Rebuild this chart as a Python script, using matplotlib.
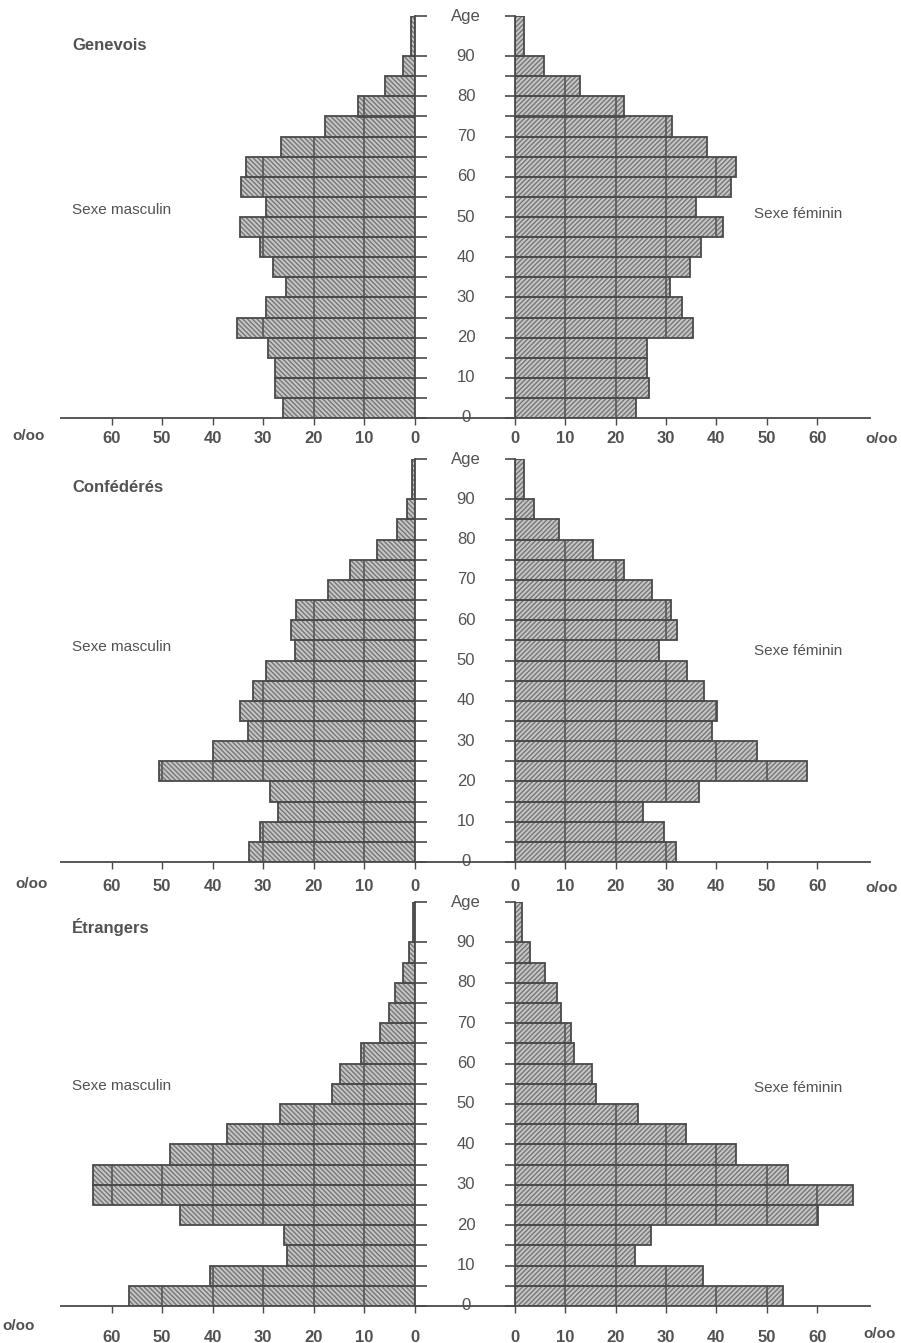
import numpy as np
import matplotlib.pyplot as plt
from matplotlib.lines import Line2D

plt.rcParams['font.family'] = ['Liberation Sans', 'DejaVu Sans']
plt.rcParams['hatch.linewidth'] = 1.0

# age groups: lower bound and width (the last group is 90 and over)
age_start = [0, 5, 10, 15, 20, 25, 30, 35, 40, 45, 50, 55, 60, 65, 70, 75, 80, 85, 90]
age_width = [5, 5, 5, 5, 5, 5, 5, 5, 5, 5, 5, 5, 5, 5, 5, 5, 5, 5, 10]

# per mille, youngest group first
genevois_m = [26.1, 27.6, 27.6, 29.0, 35.2, 29.5, 25.5, 28.0, 30.6, 34.7,
              29.5, 34.5, 33.5, 26.4, 17.8, 11.2, 5.9, 2.4, 0.7]
genevois_f = [24.0, 26.7, 26.2, 26.2, 35.3, 33.1, 30.7, 34.7, 36.9, 41.3,
              35.9, 42.8, 43.8, 38.2, 31.2, 21.7, 12.9, 5.8, 1.7]

confed_m = [32.8, 30.6, 27.1, 28.7, 50.7, 40.0, 33.0, 34.6, 32.0, 29.5,
            23.7, 24.6, 23.5, 17.3, 12.9, 7.5, 3.6, 1.6, 0.5]
confed_f = [32.0, 29.6, 25.5, 36.6, 57.9, 48.0, 39.1, 40.1, 37.6, 34.1,
            28.6, 32.1, 31.0, 27.2, 21.7, 15.4, 8.7, 3.8, 1.8]

etrang_m = [56.6, 40.6, 25.3, 25.9, 46.5, 63.7, 63.7, 48.5, 37.2, 26.6,
            16.4, 14.8, 10.7, 7.0, 5.1, 3.9, 2.4, 1.1, 0.3]
etrang_f = [53.2, 37.4, 23.8, 27.0, 60.1, 67.2, 54.3, 43.8, 33.9, 24.5,
            16.0, 15.3, 11.8, 11.2, 9.2, 8.3, 5.9, 3.0, 1.3]

titles = ['Genevois', 'Confédérés', 'Étrangers']
males = [genevois_m, confed_m, etrang_m]
females = [genevois_f, confed_f, etrang_f]

age_ticks = [0, 5, 10, 15, 20, 25, 30, 35, 40, 45, 50, 55, 60, 65, 70, 75, 80, 85, 90, 100]
age_labels = ['0', '10', '20', '30', '40', '50', '60', '70', '80', '90', 'Age']
age_label_pos = [0, 10, 20, 30, 40, 50, 60, 70, 80, 90, 100]
pm_ticks = [0, 10, 20, 30, 40, 50, 60]

FILL = '#c6c6c6'
HATCH = '#767676'
EDGE = '#4a4a4a'
GRID = '#575757'
TXT = '#525252'

W, H = 901, 1343
fig = plt.figure(figsize=(W / 100, H / 100), dpi=100)

# pixel layout of the three pyramids
base_px = [418, 862, 1306]
top_px = [16, 459, 902]
title_px = [46, 487, 927]
masc_px = [210, 647, 1086]
fem_px = [214, 651, 1088]
pad_pt = [4.5, 7.5, 12]
unit_left = [(12, 436), (15, 884), (2, 1326)]
unit_right = [(865, 439), (865, 888), (863, 1334)]


def fx(px):
    return px / W


def fy(py):
    return 1 - py / H


def draw_side(ax, values, hatch):
    ax.barh(age_start, values, height=age_width, align='edge', color=FILL,
            edgecolor=HATCH, hatch=hatch, linewidth=0, zorder=2)
    for y0, h, v in zip(age_start, age_width, values):
        xs = np.arange(10, v, 10)
        if len(xs):
            ax.vlines(xs, y0, y0 + h, color=GRID, lw=1.2, zorder=3)
    ax.barh(age_start, values, height=age_width, align='edge', fill=False,
            edgecolor=EDGE, linewidth=1.3, zorder=4)


for i in range(3):
    b = fy(base_px[i])
    h = (base_px[i] - top_px[i]) / H
    ax_l = fig.add_axes([fx(61), b, fx(415) - fx(61), h])
    ax_r = fig.add_axes([fx(515), b, fx(870) - fx(515), h])

    draw_side(ax_l, males[i], '\\' * 7)
    draw_side(ax_r, females[i], '/' * 7)

    ax_l.set_xlim(70, 0)
    ax_r.set_xlim(0, 70.5)
    for ax in (ax_l, ax_r):
        ax.set_ylim(0, 100)
        ax.set_facecolor('none')
        ax.set_xticks(pm_ticks)
        ax.set_yticks(age_ticks)
        ax.set_yticklabels([])
        ax.tick_params(axis='x', direction='out', length=5, width=1.0, color=EDGE,
                       pad=pad_pt[i], labelsize=12, labelcolor=TXT)
        for lab in ax.get_xticklabels():
            lab.set_fontweight('bold')
        for s in ax.spines.values():
            s.set_color(EDGE)
            s.set_linewidth(1.3)
        ax.spines['top'].set_visible(False)
        ax.spines['bottom'].set_visible(False)
    ax_l.spines['left'].set_visible(False)
    ax_r.spines['right'].set_visible(False)
    ax_l.yaxis.tick_right()
    ax_l.tick_params(axis='y', direction='out', length=8.5, width=1.2, color=EDGE)
    ax_r.tick_params(axis='y', direction='out', length=7.5, width=1.2, color=EDGE)

    # age scale between the two halves
    for a, lab in zip(age_label_pos, age_labels):
        ax_r.text((466 - 515) / 355, a, lab, transform=ax_r.get_yaxis_transform(),
                  ha='center', va='center', fontsize=12, color=TXT, zorder=6)

    # continuous base line
    fig.add_artist(Line2D([fx(61), fx(870)], [b, b], transform=fig.transFigure,
                          color=EDGE, lw=1.3))

    fig.text(fx(72), fy(title_px[i]), titles[i], fontsize=12, fontweight='bold',
             color=TXT, va='center', ha='left')
    fig.text(fx(72), fy(masc_px[i]), 'Sexe masculin', fontsize=11,
             color=TXT, va='center', ha='left')
    fig.text(fx(754), fy(fem_px[i]), 'Sexe féminin', fontsize=11,
             color=TXT, va='center', ha='left')
    fig.text(fx(unit_left[i][0]), fy(unit_left[i][1]), 'o/oo', fontsize=11,
             fontweight='bold', color=TXT, va='center', ha='left')
    fig.text(fx(unit_right[i][0]), fy(unit_right[i][1]), 'o/oo', fontsize=11,
             fontweight='bold', color=TXT, va='center', ha='left')

fig.savefig('out.png', dpi=100)
